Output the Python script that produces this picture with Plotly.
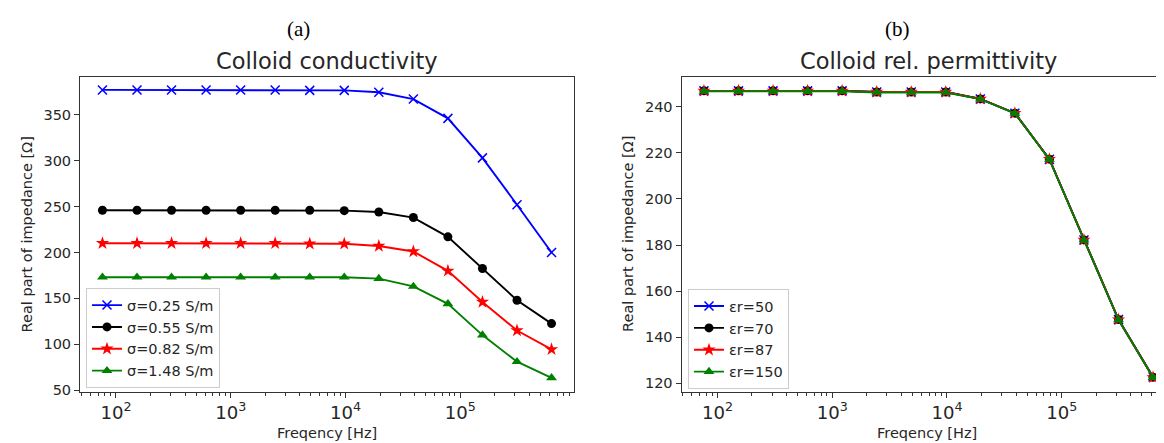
import plotly.graph_objects as go

# ---------------- data ----------------
freq_hz = [76.29, 152.6, 305.2, 610.35, 1220.7, 2441.4, 4882.8, 9765.6,
           19531.25, 39062.5, 78125, 156250, 312500, 625000]

# (a) conductivity sweep
sigma_labels = ["σ=0.25 S/m", "σ=0.55 S/m", "σ=0.82 S/m", "σ=1.48 S/m"]
re_sigma_025 = [377, 377, 377, 377, 377, 377, 376.5, 376.5, 374.5, 367, 346, 303, 252, 200]
re_sigma_055 = [246, 246, 246, 246, 246, 246, 246, 245.5, 244, 238, 217, 182.5, 148, 122.5]
re_sigma_082 = [210, 210, 210, 210, 210, 210, 209.5, 209.5, 207, 201, 180, 146, 115, 94.5]
re_sigma_148 = [173, 173, 173, 173, 173, 173, 173, 173, 171.5, 163, 144, 110, 81, 63.5]

# (b) relative permittivity sweep
eps_labels = ["εr=50", "εr=70", "εr=87", "εr=150"]
re_eps_50 = [247, 247, 247, 247, 247, 246.5, 246.5, 246.5, 243.5, 237.3, 217.3, 182.2, 147.6, 122.6]
re_eps_70 = [247, 247, 247, 247, 247, 246.5, 246.5, 246.5, 243.5, 237.3, 217.3, 182.2, 147.6, 122.5]
re_eps_87 = [247, 247, 247, 247, 247, 246.5, 246.5, 246.5, 243.5, 237.3, 217.3, 182.2, 147.6, 122.5]
re_eps_150 = [246.8, 246.8, 246.8, 246.8, 246.8, 246.3, 246.3, 246.3, 243.4, 237.2, 217.2, 182.1, 147.5, 122.4]

# ---------------- styling ----------------
W, H = 1164, 443
def px(x):
    return x / W
def py(y):
    return (H - y) / H

colors = ["#0000ff", "#000000", "#ff0000", "#008000"]
symbols = ["x-thin", "circle", "star", "triangle-up"]
msizes = [9, 9, 10, 9.5]
TXT = "#262626"
AX = "#333333"
FONT = "DejaVu Sans"

fig = go.Figure()

series_a = [re_sigma_025, re_sigma_055, re_sigma_082, re_sigma_148]
series_b = [re_eps_50, re_eps_70, re_eps_87, re_eps_150]

for i, (vals, name) in enumerate(zip(series_a, sigma_labels)):
    fig.add_trace(go.Scatter(
        x=freq_hz, y=vals, name=name, mode="lines+markers",
        line=dict(color=colors[i], width=1.9),
        marker=dict(symbol=symbols[i], size=msizes[i], color=colors[i],
                    line=dict(width=1.5 if i == 0 else 0, color=colors[i])),
        xaxis="x", yaxis="y", legend="legend"))

for i, (vals, name) in enumerate(zip(series_b, eps_labels)):
    fig.add_trace(go.Scatter(
        x=freq_hz, y=vals, name=name, mode="lines+markers",
        line=dict(color=colors[i], width=1.9),
        marker=dict(symbol=symbols[i], size=msizes[i], color=colors[i],
                    line=dict(width=1.5 if i == 0 else 0, color=colors[i])),
        xaxis="x2", yaxis="y2", legend="legend2"))

xcommon = dict(type="log", dtick=1, exponentformat="power", showexponent="all",
               showgrid=False, zeroline=False, showline=True, linecolor=AX, linewidth=1,
               mirror=True, ticks="outside", ticklen=5, tickwidth=1, tickcolor=AX,
               tickfont=dict(family=FONT, size=14.5, color=TXT),
               minor=dict(ticks="outside", ticklen=2.5, tickwidth=1, tickcolor=AX,
                          dtick="D1", showgrid=False))
ycommon = dict(showgrid=False, zeroline=False, showline=True, linecolor=AX, linewidth=1,
               ticks="outside", ticklen=5, tickwidth=1, tickcolor=AX,
               tickfont=dict(family=FONT, size=14.5, color=TXT))

ydom = [py(389.3), py(70)]

fig.update_layout(
    width=W, height=H,
    margin=dict(l=0, r=0, t=0, b=0),
    paper_bgcolor="white", plot_bgcolor="white",
    xaxis=dict(domain=[px(72), px(566)], range=[1.6868, 5.9916], anchor="y", **xcommon),
    yaxis=dict(domain=ydom, range=[48, 391], dtick=50, tick0=50, anchor="x",
               mirror=True, **ycommon),
    xaxis2=dict(domain=[px(673.5), 1.0], range=[1.6868, 5.961], anchor="y2", **xcommon),
    yaxis2=dict(domain=ydom, range=[116.1, 253], dtick=20, tick0=120, anchor="x2",
                mirror=False, **ycommon),
    legend=dict(x=px(78), y=py(284), xanchor="left", yanchor="top",
                bgcolor="rgba(255,255,255,0.85)", bordercolor="#cccccc", borderwidth=1,
                font=dict(family=FONT, size=14.5, color=TXT), itemwidth=30,
                tracegroupgap=0),
    legend2=dict(x=px(680), y=py(285), xanchor="left", yanchor="top",
                 bgcolor="rgba(255,255,255,0.85)", bordercolor="#cccccc", borderwidth=1,
                 font=dict(family=FONT, size=14.5, color=TXT), itemwidth=30,
                 tracegroupgap=0),
    showlegend=True,
)

def ann(text, x, y, size, family=FONT, angle=0, color=TXT):
    fig.add_annotation(text=text, x=px(x), y=py(y), xref="paper", yref="paper",
                       showarrow=False, xanchor="center", yanchor="middle",
                       textangle=angle, font=dict(family=family, size=size, color=color))

ann("(a)", 290, 21, 21, family="Liberation Serif", color="#000000")
ann("(b)", 889, 21, 21, family="Liberation Serif", color="#000000")
ann("Colloid conductivity", 319, 54, 22.5)
ann("Colloid rel. permittivity", 920, 54, 22.5)
ann("Freqency [Hz]", 319, 431, 14.5)
ann("Freqency [Hz]", 919, 431, 14.5)
ann("Real part of impedance [Ω]", 19, 229.5, 14.5, angle=-90)
ann("Real part of impedance [Ω]", 620.5, 229.5, 14.5, angle=-90)

fig.write_html("out.html")
